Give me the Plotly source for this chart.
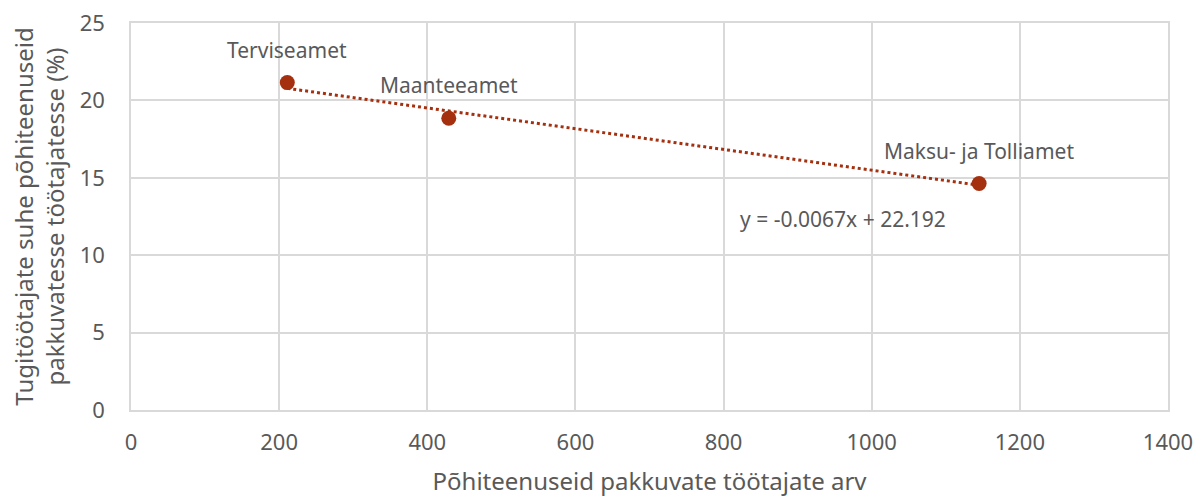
import plotly.graph_objects as go
import numpy as np

names = ["Terviseamet", "Maanteeamet", "Maksu- ja Tolliamet"]
x_vals = [211, 429, 1145]
y_vals = [21.15, 18.85, 14.63]
slope = -0.0067
intercept = 22.192
equation_text = "y = -0.0067x + 22.192"

color = "#A5300F"
txt = "#595959"
font_family = "Noto Sans, Open Sans, sans-serif"

fig = go.Figure()

tx = np.linspace(min(x_vals), max(x_vals), 50)
ty = slope * tx + intercept
fig.add_trace(go.Scatter(x=tx, y=ty, mode="lines",
                         line=dict(color=color, width=3, dash="dot"),
                         hoverinfo="skip", showlegend=False))
fig.add_trace(go.Scatter(x=x_vals, y=y_vals, mode="markers",
                         marker=dict(color=color, size=15),
                         text=names, showlegend=False))

for n, xv, yv in zip(names, x_vals, y_vals):
    fig.add_annotation(x=xv, y=yv, text=n, showarrow=False, yshift=33,
                       font=dict(size=21, color=txt, family=font_family))

fig.add_annotation(x=961, y=12.33, text=equation_text, showarrow=False,
                   font=dict(size=21, color=txt, family=font_family))

fig.update_layout(
    width=1197, height=497,
    margin=dict(l=131, r=29, t=23, b=87),
    paper_bgcolor="white", plot_bgcolor="white",
    font=dict(family=font_family, color=txt, size=21),
    xaxis=dict(range=[0, 1400], dtick=200, showgrid=True, gridcolor="#d9d9d9",
               gridwidth=1.5, zeroline=False, showline=True, linecolor="#d9d9d9",
               linewidth=1.5, mirror=True, ticks="", ticklabelstandoff=12,
               automargin=False,
               tickfont=dict(size=22, color=txt),
               title=dict(text="Põhiteenuseid pakkuvate töötajate arv",
                          font=dict(size=24, color=txt), standoff=22)),
    yaxis=dict(range=[0, 25], dtick=5, showgrid=True, gridcolor="#d9d9d9",
               gridwidth=1.5, zeroline=False, showline=True, linecolor="#d9d9d9",
               linewidth=1.5, mirror=True, ticks="", ticklabelstandoff=20,
               automargin=False,
               tickfont=dict(size=22, color=txt),
               title=dict(text="Tugitöötajate suhe põhiteenuseid<br>pakkuvatesse töötajatesse (%)",
                          font=dict(size=24, color=txt), standoff=8)),
)

fig.write_html("out.html", config={"displayModeBar": False},
               post_script="document.body.style.margin='0';document.body.style.overflow='hidden';")
